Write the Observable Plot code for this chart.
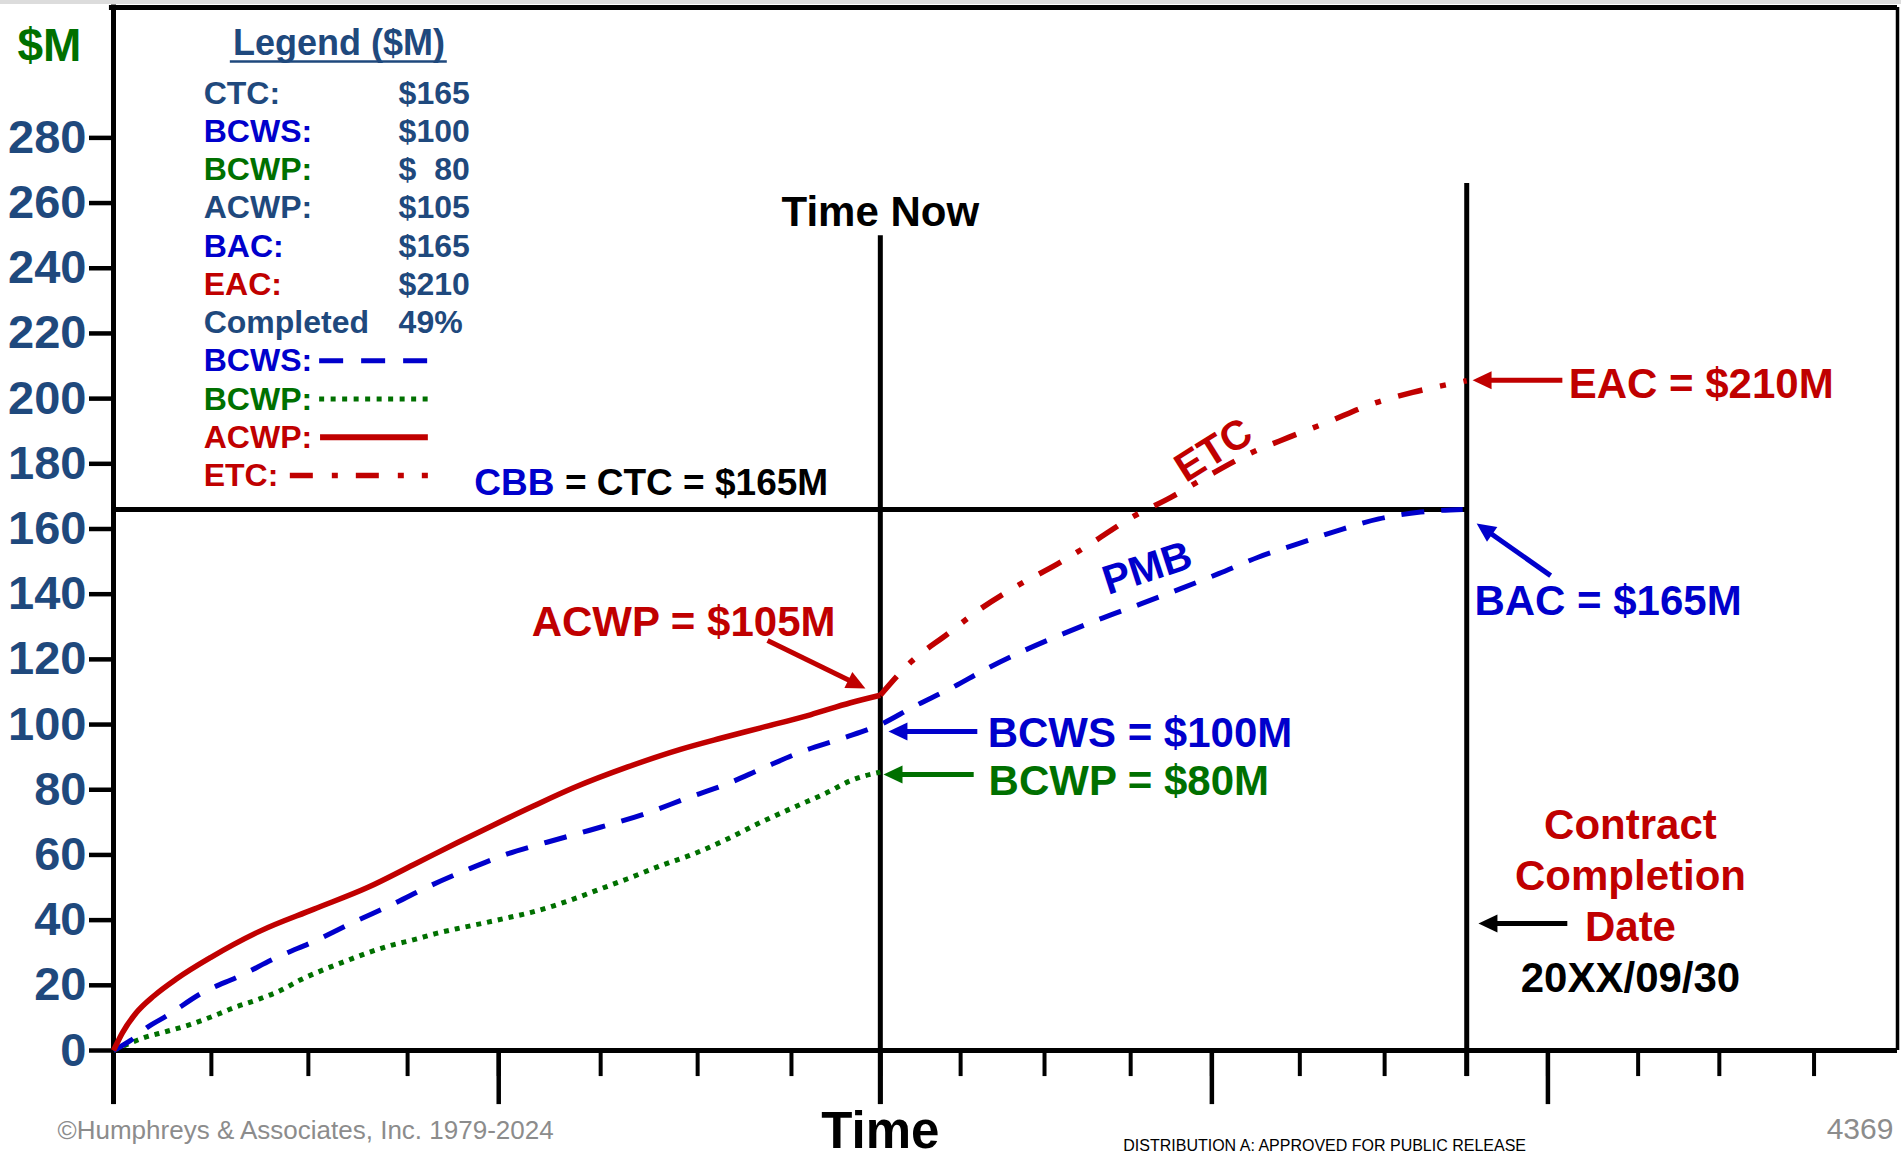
<!DOCTYPE html>
<html>
<head>
<meta charset="utf-8">
<script src="https://cdn.jsdelivr.net/npm/d3@7"></script>
<script src="https://cdn.jsdelivr.net/npm/@observablehq/plot@0.6"></script>
<style>
  html, body { margin: 0; padding: 0; background: #ffffff; overflow: hidden; }
  #chart svg { display: block; }
</style>
</head>
<body>
<div id="chart"></div>
<script>
// ---------------- Data (time in months, money in $M) ----------------
const timeNow = 17;
const completion = 30;
const cbb = 166;

const acwpTime  = [0, 0.2, 0.5, 0.9, 1.4, 2.15, 3.26, 4.43, 5.63, 6.65, 7.63, 8.43, 9.31, 10.2, 11.4, 12.57, 13.46, 14.35, 15.45, 16.34, 17];
const acwpValue = [0, 5.5, 11.5, 16.8, 22, 28.5, 36.7, 43.3, 50, 57, 63.8, 69.2, 75, 80.6, 87, 92.4, 95.8, 99, 103, 106.7, 109];

const bcwsTime  = [0, 0.38, 0.75, 1.19, 1.93, 2.82, 3.63, 4.48, 5.33, 6.21, 7.03, 7.88, 8.73, 9.61, 10.54, 11.84, 12.73, 13.57, 14.41, 15.28, 16.16, 17,
                   17.74, 18.56, 19.38, 20.22, 21.06, 21.91, 22.79, 23.66, 24.5, 25.39, 26.27, 27.16, 28.05, 28.98, 29.91];
const bcwsValue = [0, 3.1, 7.1, 10.7, 17.4, 23.0, 28.6, 33.7, 39.4, 45.0, 50.6, 55.7, 60.3, 63.9, 67.5, 72.9, 77.5, 81.6, 86.7, 91.8, 95.8, 100,
                   105.5, 111.1, 117.3, 122.9, 127.9, 132.6, 137.1, 141.7, 146.3, 151.4, 155.5, 159.6, 163.1, 165.2, 166];

const bcwpTime  = [0, 0.67, 1.19, 1.71, 2.22, 2.7, 3.19, 3.7, 4.15, 4.66, 5.18, 5.62, 6.14, 6.66, 7.18, 7.69, 8.21, 8.73, 9.24, 9.76, 10.28, 10.8, 11.4, 12.13, 12.86, 13.61, 14.35, 15.08, 15.83, 16.34, 17];
const bcwpValue = [0, 3.9, 5.9, 8.0, 10.6, 13.3, 15.6, 18.4, 21.7, 24.8, 27.6, 29.9, 32.2, 34.0, 36.0, 37.6, 39.1, 40.7, 42.3, 44.4, 46.9, 49.6, 52.7, 56.7, 60.3, 64.9, 70, 74.6, 79.2, 82.8, 85.4];

const etcTime  = [17, 17.67, 18.49, 19.22, 20.04, 20.93, 21.71, 22.51, 23.44, 24.28, 25.14, 26.05, 26.92, 27.85, 28.8, 29.71, 30];
const etcValue = [109, 119.1, 127.8, 135.5, 142.6, 149.3, 155.9, 163.1, 169.7, 176.4, 182.8, 188.1, 192.8, 198.1, 201.9, 204.7, 205.5];

const yTicks = [0, 20, 40, 60, 80, 100, 120, 140, 160, 180, 200, 220, 240, 260, 280];
const xTicks = [0, 2.17, 4.32, 6.52, 8.54, 10.8, 12.95, 15.03, 17, 18.78, 20.64, 22.55, 24.35, 26.3, 28.18, 30, 31.8, 33.8, 35.6, 37.7];
const xLongTicks = [0, 8.54, 17, 24.35, 31.8];

const legendLabels = ["CTC:", "BCWS:", "BCWP:", "ACWP:", "BAC:", "EAC:", "Completed"];
const legendValues = ["$165", "$100", "$\u00a0\u00a080", "$105", "$165", "$210", "49%"];
const legendLineLabels = ["BCWS:", "BCWP:", "ACWP:", "ETC:"];

// ---------------- Styles ----------------
const STEEL = "#1F497D", BLUE = "#0000CC", GREEN = "#007000", RED = "#C00000", GRAY = "#8C8C8C";
const FONT = "'Liberation Sans', Arial, Helvetica, sans-serif";
const W = 1901, H = 1159;
const M = {top: 7, right: 4, bottom: 109, left: 113};
const xMax = 39.55, yMax = 320;
const kx = (W - M.left - M.right) / xMax;   // px per month
const ky = (H - M.top - M.bottom) / yMax;   // px per $M

const zip = (T, V) => T.map((t, i) => ({t, v: V[i]}));
const acwp = zip(acwpTime, acwpValue);
const bcws = zip(bcwsTime, bcwsValue);
const bcwp = zip(bcwpTime, bcwpValue);
const etc  = zip(etcTime, etcValue);

const labelColor = {"CTC:": STEEL, "BCWS:": BLUE, "BCWP:": GREEN, "ACWP:": STEEL, "BAC:": BLUE, "EAC:": RED, "Completed": STEEL};
const lineStyle = {
  "BCWS:": {stroke: BLUE, strokeWidth: 5, strokeDasharray: "24,18", x1: 4.57},
  "BCWP:": {stroke: GREEN, strokeWidth: 5, strokeDasharray: "5,6.5", x1: 4.57},
  "ACWP:": {stroke: RED, strokeWidth: 6, strokeDasharray: null, x1: 4.59},
  "ETC:":  {stroke: RED, strokeWidth: 5.5, strokeDasharray: "23,19,6,18", x1: 3.92}
};
const rowY = (i) => 290.5 - i * 11.73;

// ---------------- Arrows ----------------
const HEAD_LEN = 19, HEAD_W = 9;
const arrows = [
  {x1: 14.5,  y1: 125.8, x2: 16.67, y2: 111.1, color: RED},    // ACWP
  {x1: 19.15, y1: 97.9,  x2: 17.18, y2: 97.9,  color: BLUE},   // BCWS
  {x1: 19.07, y1: 84.7,  x2: 17.07, y2: 84.7,  color: GREEN},  // BCWP
  {x1: 32.12, y1: 205.6, x2: 30.13, y2: 205.6, color: RED},    // EAC
  {x1: 31.86, y1: 145.7, x2: 30.22, y2: 161.7, color: BLUE},   // BAC
  {x1: 32.23, y1: 39.0,  x2: 30.26, y2: 39.0,  color: "black"} // completion date
].map(a => {
  const dxp = (a.x2 - a.x1) * kx, dyp = -(a.y2 - a.y1) * ky;
  const len = Math.hypot(dxp, dyp), ux = dxp / len, uy = dyp / len;
  const back = HEAD_LEN - 3;
  return {...a, sx: a.x2 - back * ux / kx, sy: a.y2 + back * uy / ky, angle: Math.atan2(uy, ux)};
});
function headSymbol(angle) {
  return {
    draw(ctx) {
      const c = Math.cos(angle), s = Math.sin(angle);
      const bx = -HEAD_LEN * c, by = -HEAD_LEN * s;
      ctx.moveTo(0, 0);
      ctx.lineTo(bx - HEAD_W * s, by + HEAD_W * c);
      ctx.lineTo(bx + HEAD_W * s, by - HEAD_W * c);
      ctx.closePath();
    }
  };
}

const bold = {fontFamily: FONT, fontWeight: "bold"};
const txt = (s, o) => Plot.text([s], {lineAnchor: "bottom", ...bold, ...o});

const marks = [
  // slide edge
  Plot.ruleY([yMax + 1.7], {x1: -2.51, x2: 39.64, stroke: "#dcdcdc", strokeWidth: 4}),
  // frame
  Plot.ruleY([yMax], {x1: -0.09, x2: xMax, stroke: "black", strokeWidth: 5}),
  Plot.ruleX([xMax], {y1: 0, y2: yMax, stroke: "black", strokeWidth: 3.5}),
  Plot.ruleX([0], {y1: -16.6, y2: yMax + 0.75, stroke: "black", strokeWidth: 5}),
  Plot.ruleY([0], {x1: 0, x2: xMax, stroke: "black", strokeWidth: 5}),
  // x ticks
  Plot.ruleX(xTicks, {y1: 0, y2: -8, stroke: "black", strokeWidth: 4}),
  Plot.ruleX(xLongTicks, {y1: 0, y2: -16.6, stroke: "black", strokeWidth: 4.5}),
  // y axis
  Plot.axisY(yTicks, {tickSize: 24, tickPadding: 3, stroke: "black", strokeWidth: 4.5, fill: STEEL,
                      fontSize: 47, fontWeight: "bold", fontFamily: FONT, label: null}),
  // reference lines
  Plot.ruleY([cbb], {x1: 0, x2: completion, stroke: "black", strokeWidth: 5}),
  Plot.ruleX([timeNow], {y1: -16.6, y2: 250, stroke: "black", strokeWidth: 5}),
  Plot.ruleX([completion], {y1: -8, y2: 266, stroke: "black", strokeWidth: 5}),
  // curves
  Plot.line(bcwp, {x: "t", y: "v", stroke: GREEN, strokeWidth: 5, strokeDasharray: "5,6", strokeLinecap: "butt", curve: "monotone-x"}),
  Plot.line(bcws, {x: "t", y: "v", stroke: BLUE, strokeWidth: 5, strokeDasharray: "23,17", strokeLinecap: "butt", curve: "monotone-x"}),
  Plot.line(etc,  {x: "t", y: "v", stroke: RED, strokeWidth: 5.5, strokeDasharray: "25,18,6,18", strokeLinecap: "butt", curve: "monotone-x"}),
  Plot.line(acwp, {x: "t", y: "v", stroke: RED, strokeWidth: 5.5, strokeLinecap: "butt", curve: "monotone-x"}),
  // arrows
  ...arrows.map(a => Plot.link([a], {x1: "x1", y1: "y1", x2: "sx", y2: "sy", stroke: a.color, strokeWidth: 5})),
  ...arrows.map(a => Plot.dot([a], {x: "x2", y: "y2", symbol: headSymbol(a.angle), fill: a.color, stroke: "none"})),
  // annotations
  txt("Time Now", {x: timeNow, y: 253.1, textAnchor: "middle", fontSize: 42, fill: "black"}),
  txt("CBB", {x: 8.0, y: 170.3, textAnchor: "start", fontSize: 37, fill: BLUE}),
  txt("= CTC = $165M", {x: 10.007, y: 170.3, textAnchor: "start", fontSize: 37, fill: "black"}),
  txt("ACWP = $105M", {x: 9.27, y: 127.3, textAnchor: "start", fontSize: 42, fill: RED}),
  txt("BCWS = $100M", {x: 19.38, y: 93.0, textAnchor: "start", fontSize: 42, fill: BLUE}),
  txt("BCWP = $80M", {x: 19.4, y: 78.5, textAnchor: "start", fontSize: 42, fill: GREEN}),
  txt("EAC = $210M", {x: 32.26, y: 200.3, textAnchor: "start", fontSize: 42, fill: RED}),
  txt("BAC = $165M", {x: 30.17, y: 133.5, textAnchor: "start", fontSize: 42, fill: BLUE}),
  txt("Contract\nCompletion\nDate", {x: 33.63, y: 33.7, textAnchor: "middle", fontSize: 42, lineHeight: 1.214, fill: RED}),
  txt("20XX/09/30", {x: 33.63, y: 17.8, textAnchor: "middle", fontSize: 42, fill: "black"}),
  Plot.text(["ETC"], {x: 24.39, y: 184.1, rotate: -32, textAnchor: "middle", lineAnchor: "middle", fontSize: 41, fill: RED, ...bold}),
  Plot.text(["PMB"], {x: 22.92, y: 147.9, rotate: -18, textAnchor: "middle", lineAnchor: "middle", fontSize: 41, fill: BLUE, ...bold}),
  txt("$M", {x: -1.42, y: 303.7, textAnchor: "middle", fontSize: 46, fill: GREEN}),
  // legend
  txt("Legend ($M)", {x: 5.0, y: 305.3, textAnchor: "middle", fontSize: 36, fill: STEEL}),
  Plot.ruleY([303.4], {x1: 2.59, x2: 7.40, stroke: STEEL, strokeWidth: 2.5}),
  ...legendLabels.map((d, i) => txt(d, {x: 2.0, y: rowY(i), textAnchor: "start", fontSize: 32, fill: labelColor[d]})),
  ...legendValues.map((d, i) => txt(d, {x: 6.32, y: rowY(i), textAnchor: "start", fontSize: 32, fill: STEEL})),
  ...legendLineLabels.map((d, i) => txt(d, {x: 2.0, y: rowY(i + 7), textAnchor: "start", fontSize: 32, fill: lineStyle[d].stroke})),
  ...legendLineLabels.map((d, i) => {
    const s = lineStyle[d];
    return Plot.ruleY([rowY(i + 7) + 3.2], {x1: s.x1, x2: 6.98, stroke: s.stroke, strokeWidth: s.strokeWidth,
      strokeDasharray: s.strokeDasharray || undefined, strokeLinecap: "butt"});
  }),
  // bottom texts
  txt("Time", {x: timeNow, y: -30.0, textAnchor: "middle", fontSize: 51, fill: "black"}),
  Plot.text(["\u00a9Humphreys & Associates, Inc. 1979-2024"], {x: -1.24, y: -27.0, lineAnchor: "bottom", textAnchor: "start", fontSize: 26, fontFamily: FONT, fill: GRAY}),
  Plot.text(["DISTRIBUTION A: APPROVED FOR PUBLIC RELEASE"], {x: 26.85, y: -30.7, lineAnchor: "bottom", textAnchor: "middle", fontSize: 16, fontFamily: FONT, fill: "black"}),
  Plot.text(["4369"], {x: 39.46, y: -27.0, lineAnchor: "bottom", textAnchor: "end", fontSize: 30, fontFamily: FONT, fill: GRAY})
];

const chart = Plot.plot({
  width: W,
  height: H,
  marginTop: M.top,
  marginRight: M.right,
  marginBottom: M.bottom,
  marginLeft: M.left,
  style: {fontFamily: FONT, background: "#ffffff", overflow: "visible"},
  x: {domain: [0, xMax], axis: null},
  y: {domain: [0, yMax]},
  marks
});
document.getElementById("chart").appendChild(chart);
</script>
</body>
</html>
